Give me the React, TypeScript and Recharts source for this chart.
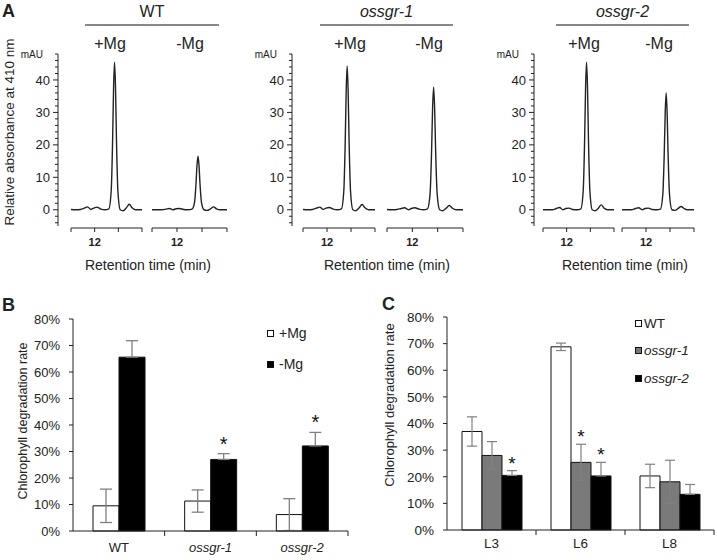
import { Bar, BarChart, ErrorBar, LabelList, Legend, Line, LineChart, XAxis, YAxis } from "recharts";

const FONT = '"Liberation Sans", Arial, Helvetica, sans-serif';
const INK = "#222";

// A: HPLC traces (mAU at 410 nm) against retention time, one grid for all six runs
const retentionTime = [11.5, 11.6, 11.7, 11.78, 11.85, 11.92, 11.98, 12.05, 12.13, 12.22, 12.3, 12.35, 12.38, 12.4, 12.42, 12.44, 12.46, 12.49, 12.54, 12.6, 12.67, 12.73, 12.79, 12.86, 12.93, 13.0];
const wtPlusMg = [0.1, 0, 0.1, 0.5, 0.9, 0.1, 0.5, 0.8, 0.2, 0, 0.3, 6, 22, 38, 45.5, 38, 22, 6, 0, -0.3, 0.6, 1.7, 0.6, 0, 0, 0];
const wtMinusMg = [0, 0, 0, 0.2, 0.4, 0, 0.3, 0.4, 0.1, 0, 0.2, 2.2, 8, 13.7, 16.5, 13.7, 8, 2.2, 0, -0.2, 0.3, 0.9, 0.3, 0, 0, 0];
const sgr1PlusMg = [0.1, 0, 0.1, 0.5, 0.8, 0.1, 0.5, 0.7, 0.2, 0, 0.3, 5.8, 21.3, 36.8, 44.3, 36.8, 21.3, 5.8, 0, -0.3, 0.6, 1.6, 0.6, 0, 0, 0];
const sgr1MinusMg = [0.1, 0, 0.1, 0.4, 0.6, 0, 0.4, 0.6, 0.2, 0, 0.3, 4.9, 18.1, 31.4, 37.8, 31.4, 18.1, 4.9, 0, -0.3, 0.5, 1.3, 0.5, 0, 0, 0];
const sgr2PlusMg = [0, 0, 0, 0.4, 0.7, 0, 0.4, 0.5, 0.1, 0, 0.3, 6, 22, 38, 45.5, 38, 22, 6, 0, -0.3, 0.5, 1.5, 0.5, 0, 0, 0];
const sgr2MinusMg = [0, 0, 0, 0.4, 0.6, 0, 0.4, 0.5, 0.1, 0, 0.2, 4.7, 17.3, 29.9, 36, 29.9, 17.3, 4.7, 0, -0.2, 0.4, 1.0, 0.4, 0, 0, 0];
const mauTicks = [-4, -2, 0, 2, 4, 6, 8, 10, 12, 14, 16, 18, 20, 22, 24, 26, 28, 30, 32, 34, 36, 38, 40, 42, 44, 46, 48];
const timeTicks = [11.5, 12, 12.5, 13];

// B: degradation rate with / without Mg
const lines = ["WT", "ossgr-1", "ossgr-2"];
const plusMg = [9.5, 11.3, 6.2];
const plusMgErr = [6.3, 4.2, 6.0];
const minusMg = [65.6, 27.0, 32.1];
const minusMgErr = [6.2, 2.2, 5.1];
const minusMgStar = [false, true, true];

// C: degradation rate by leaf position
const leaves = ["L3", "L6", "L8"];
const wtRate = [37, 68.8, 20.3];
const wtErr = [5.5, 1.4, 4.4];
const sgr1Rate = [28, 25.4, 18.1];
const sgr1Err = [5.2, 6.8, 8.1];
const sgr1Star = [false, true, false];
const sgr2Rate = [20.5, 20.3, 13.4];
const sgr2Err = [1.8, 5.1, 3.7];
const sgr2Star = [true, true, false];
const rateTicks = [0, 10, 20, 30, 40, 50, 60, 70, 80];

const italicNames = new Set(["ossgr-1", "ossgr-2"]);

const panelA = [
  { name: "WT", runs: [wtPlusMg, wtMinusMg], axisX: 58, segs: [[71, 71], [152, 75]], rule: [85, 219], mg: [110, 190], retX: 148 },
  { name: "ossgr-1", runs: [sgr1PlusMg, sgr1MinusMg], axisX: 292, segs: [[303, 72], [387, 76]], rule: [320, 453], mg: [350, 429], retX: 387 },
  { name: "ossgr-2", runs: [sgr2PlusMg, sgr2MinusMg], axisX: 534, segs: [[543, 71], [622, 72]], rule: [556, 689], mg: [584, 659], retX: 625 },
];

function MauTick(props: any) {
  const { x, y, payload } = props;
  const v = payload.value;
  const major = v % 10 === 0;
  return (
    <g>
      <line x1={x} x2={x - (major ? 5 : 3)} y1={y} y2={y} stroke={INK} />
      {major && v >= 0 && v <= 40 && (
        <text x={x - 8} y={y} dy="0.35em" textAnchor="end" fontSize={13} fill={INK} fontFamily={FONT}>{v}</text>
      )}
      {v === 48 && (
        <text x={x - 15} y={y} dy="0.35em" textAnchor="end" fontSize={10} fill={INK} fontFamily={FONT}>mAU</text>
      )}
    </g>
  );
}

function MauAxis({ axisX, values }: { axisX: number; values: number[] }) {
  const data = retentionTime.map((t, i) => ({ t, mau: values[i] }));
  return (
    <div style={{ position: "absolute", left: axisX - 50, top: 46 }}>
      <LineChart width={56} height={184} data={data} margin={{ top: 8, right: 3, bottom: 4, left: 0 }}>
        <XAxis dataKey="t" type="number" domain={[11.5, 13]} hide />
        <YAxis width={50} domain={[-5, 48]} ticks={mauTicks} interval={0} tickSize={0} tickMargin={0} tickLine={false} stroke={INK} tick={(p: any) => <MauTick {...p} />} />
        <Line dataKey="mau" stroke="none" dot={false} activeDot={false} isAnimationActive={false} />
      </LineChart>
    </div>
  );
}

function Trace({ values, left, width }: { values: number[]; left: number; width: number }) {
  const data = retentionTime.map((t, i) => ({ t, mau: values[i] }));
  return (
    <div style={{ position: "absolute", left: left - 1, top: 52 }}>
      <LineChart width={width + 2} height={204} data={data} margin={{ top: 2, right: 1, bottom: 0, left: 1 }}>
        <XAxis
          dataKey="t"
          type="number"
          domain={[11.5, 13]}
          ticks={timeTicks}
          interval={0}
          tickFormatter={(v: number) => (v === 12 ? "12" : "")}
          height={28}
          tickSize={4}
          tickMargin={6}
          stroke={INK}
          tick={{ fontSize: 11, fontWeight: 700, fill: INK, fontFamily: FONT }}
        />
        <YAxis hide width={0} domain={[-5.62, 48]} allowDataOverflow />
        <Line dataKey="mau" type="monotone" stroke={INK} strokeWidth={1.4} dot={false} isAnimationActive={false} />
      </LineChart>
    </div>
  );
}

const bandTick = (band: number, fontSize: number, labelDy: number) => (props: any) => {
  const { x, y, payload } = props;
  const name = String(payload.value);
  return (
    <g>
      <line x1={x + band / 2} x2={x + band / 2} y1={y} y2={y + 5} stroke={INK} />
      <text x={x} y={y + labelDy} dy="0.35em" textAnchor="middle" fontSize={fontSize} fill={INK} fontFamily={FONT} fontStyle={italicNames.has(name) ? "italic" : "normal"}>
        {name}
      </text>
    </g>
  );
};

const starAbove = (errs: number[], flags: boolean[], size: number, lift: number) => (props: any) => {
  const { index, value } = props;
  if (!flags[index]) return null;
  const vb = props.viewBox && props.viewBox.width != null ? props.viewBox : props;
  const { x, y, width, height } = vb;
  const errTop = y - errs[index] * (Math.abs(height) / value);
  return (
    <text x={x + width / 2} y={errTop - lift} textAnchor="middle" fontSize={size} fill="#111" fontFamily={FONT}>*</text>
  );
};

type Swatch = { name: string; fill: string };

const swatchLegend = (items: Swatch[], fontSize: number, gap: number, space: number, box: number) => () => (
  <div style={{ display: "flex", flexDirection: "column", gap, alignItems: "flex-start" }}>
    {items.map((it) => (
      <div key={it.name} style={{ display: "flex", alignItems: "center", height: 16, fontSize, fontFamily: FONT, color: INK }}>
        <span style={{ width: box, height: box, border: "1px solid #111", background: it.fill, marginRight: space, boxSizing: "border-box", display: "inline-block" }} />
        <span style={{ fontStyle: italicNames.has(it.name) ? "italic" : "normal" }}>{it.name}</span>
      </div>
    ))}
  </div>
);

const GRAY = "#7a7a7a";
const ERR = "#808080";

export default function App() {
  const bData = lines.map((name, i) => ({
    name,
    plus: plusMg[i],
    plusErr: plusMgErr[i],
    minus: minusMg[i],
    minusErr: [0, minusMgErr[i]],
  }));
  const cData = leaves.map((name, i) => ({
    name,
    wt: wtRate[i],
    wtErr: wtErr[i],
    s1: sgr1Rate[i],
    s1Err: sgr1Err[i],
    s2: sgr2Rate[i],
    s2Err: [0, sgr2Err[i]],
  }));

  const bBand = (360 - 12 - 73) / 3;
  const cBand = (360 - 3 - 90) / 3;

  return (
    <div style={{ position: "absolute", left: 0, top: 0, width: 717, height: 560, background: "#fff", fontFamily: FONT }}>
      {panelA.map((p) => (
        <div key={p.name}>
          <MauAxis axisX={p.axisX} values={p.runs[0]} />
          <Trace values={p.runs[0]} left={p.segs[0][0]} width={p.segs[0][1]} />
          <Trace values={p.runs[1]} left={p.segs[1][0]} width={p.segs[1][1]} />
        </div>
      ))}

      <div style={{ position: "absolute", left: 0, top: 300 }}>
        <BarChart width={360} height={260} data={bData} margin={{ top: 19, right: 12, bottom: 0, left: 0 }} barGap={0}>
          <XAxis dataKey="name" height={29} tickLine={false} tickSize={0} tickMargin={0} stroke={INK} interval={0} tick={bandTick(bBand, 13, 16)} />
          <YAxis width={73} domain={[0, 80]} ticks={rateTicks} interval={0} tickFormatter={(v: number) => `${v}%`} tickSize={4} tickMargin={9} stroke={INK} tick={{ fontSize: 13, fill: INK, fontFamily: FONT }} />
          <Legend
            layout="horizontal"
            verticalAlign="middle"
            align="center"
            wrapperStyle={{ left: 267, top: 25, width: 80 }}
            content={swatchLegend([{ name: "+Mg", fill: "#fff" }, { name: "-Mg", fill: "#000" }], 14, 15, 5, 7)}
          />
          <Bar dataKey="plus" name="+Mg" fill="#fff" stroke="#111" strokeWidth={1} barSize={26} isAnimationActive={false}>
            <ErrorBar dataKey="plusErr" width={6} stroke={ERR} strokeWidth={1.3} direction="y" />
          </Bar>
          <Bar dataKey="minus" name="-Mg" fill="#000" stroke="#111" strokeWidth={1} barSize={26} isAnimationActive={false}>
            <ErrorBar dataKey="minusErr" width={6} stroke={ERR} strokeWidth={1.3} direction="y" />
            <LabelList dataKey="minus" content={starAbove(minusMgErr, minusMgStar, 20, 3)} />
          </Bar>
        </BarChart>
      </div>

      <div style={{ position: "absolute", left: 357, top: 300 }}>
        <BarChart width={360} height={260} data={cData} margin={{ top: 17, right: 3, bottom: 0, left: 0 }} barGap={0}>
          <XAxis dataKey="name" height={30} tickLine={false} tickSize={0} tickMargin={0} stroke={INK} interval={0} tick={bandTick(cBand, 13.5, 13)} />
          <YAxis width={90} domain={[0, 80]} ticks={rateTicks} interval={0} tickFormatter={(v: number) => `${v}%`} tickSize={4} tickMargin={9} stroke={INK} tick={{ fontSize: 13.5, fill: INK, fontFamily: FONT }} />
          <Legend
            layout="horizontal"
            verticalAlign="middle"
            align="center"
            wrapperStyle={{ left: 278, top: 15, width: 80 }}
            content={swatchLegend([{ name: "WT", fill: "#fff" }, { name: "ossgr-1", fill: GRAY }, { name: "ossgr-2", fill: "#000" }], 13.5, 11.5, 2, 7)}
          />
          <Bar dataKey="wt" name="WT" fill="#fff" stroke="#111" strokeWidth={1} barSize={20} isAnimationActive={false}>
            <ErrorBar dataKey="wtErr" width={5} stroke={ERR} strokeWidth={1.2} direction="y" />
          </Bar>
          <Bar dataKey="s1" name="ossgr-1" fill={GRAY} stroke="#111" strokeWidth={1} barSize={20} isAnimationActive={false}>
            <ErrorBar dataKey="s1Err" width={5} stroke={ERR} strokeWidth={1.2} direction="y" />
            <LabelList dataKey="s1" content={starAbove(sgr1Err, sgr1Star, 19, 1)} />
          </Bar>
          <Bar dataKey="s2" name="ossgr-2" fill="#000" stroke="#111" strokeWidth={1} barSize={20} isAnimationActive={false}>
            <ErrorBar dataKey="s2Err" width={5} stroke={ERR} strokeWidth={1.2} direction="y" />
            <LabelList dataKey="s2" content={starAbove(sgr2Err, sgr2Star, 19, 1)} />
          </Bar>
        </BarChart>
      </div>

      <svg width={717} height={560} style={{ position: "absolute", left: 0, top: 0, pointerEvents: "none" }} fontFamily={FONT} fill={INK}>
        <text x={2} y={17} fontSize={18} fontWeight={700}>A</text>
        <text x={2} y={311} fontSize={18} fontWeight={700}>B</text>
        <text x={382} y={310} fontSize={18} fontWeight={700}>C</text>
        <text transform="translate(14,132) rotate(-90)" textAnchor="middle" fontSize={13.5}>Relative absorbance at 410 nm</text>
        <text transform="translate(27,421) rotate(-90)" textAnchor="middle" fontSize={12.5}>Chlorophyll degradation rate</text>
        <text transform="translate(394,405) rotate(-90)" textAnchor="middle" fontSize={13}>Chlorophyll degradation rate</text>
        {panelA.map((p) => (
          <g key={p.name}>
            <text x={(p.rule[0] + p.rule[1]) / 2} y={17} textAnchor="middle" fontSize={16} fontStyle={italicNames.has(p.name) ? "italic" : "normal"}>{p.name}</text>
            <line x1={p.rule[0]} x2={p.rule[1]} y1={25} y2={25} stroke="#111" strokeWidth={1} />
            <text x={p.mg[0]} y={49} textAnchor="middle" fontSize={16}>+Mg</text>
            <text x={p.mg[1]} y={49} textAnchor="middle" fontSize={16}>-Mg</text>
            <text x={p.retX} y={270} textAnchor="middle" fontSize={14}>Retention time (min)</text>
          </g>
        ))}
      </svg>
    </div>
  );
}
